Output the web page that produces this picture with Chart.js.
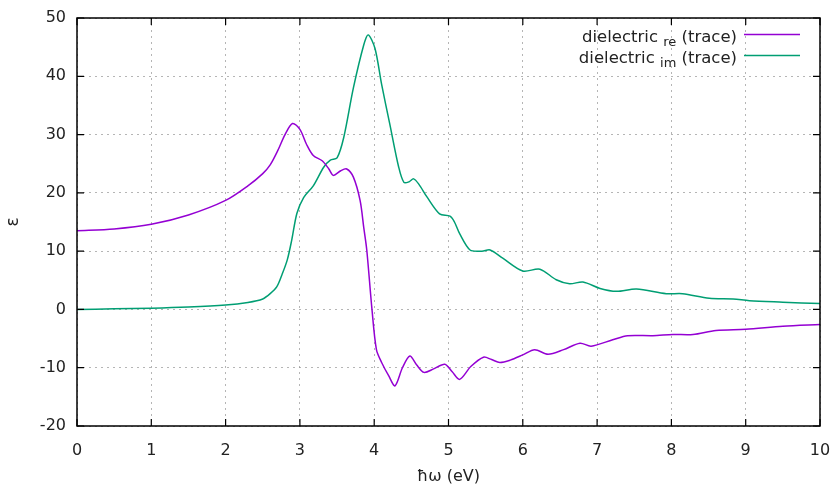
<!DOCTYPE html>
<html>
<head>
<meta charset="utf-8">
<script src="https://cdn.jsdelivr.net/npm/chart.js@4.4.1/dist/chart.umd.min.js"></script>
<style>
  html, body { margin: 0; padding: 0; background: #fff; }
  #wrap { width: 835px; height: 486px; position: relative; }
</style>
</head>
<body>
<div id="wrap"><canvas id="c" width="835" height="486"></canvas></div>
<script>
// ---- data ----
const reEnergy = [0, 0.5, 1, 1.5, 2, 2.3, 2.5, 2.6, 2.7, 2.8, 2.9, 3.0, 3.09, 3.18, 3.3, 3.39, 3.45, 3.55, 3.63, 3.72, 3.81, 3.86, 3.9, 3.97, 4.03, 4.1, 4.2, 4.28, 4.38, 4.48, 4.57, 4.67, 4.8, 4.95, 5.05, 5.15, 5.3, 5.47, 5.58, 5.69, 5.83, 6.0, 6.16, 6.34, 6.55, 6.77, 6.92, 7.21, 7.41, 7.75, 8.02, 8.29, 8.6, 9.0, 9.5, 10];
const reValues = [13.5, 13.8, 14.6, 16.2, 18.7, 21.2, 23.3, 24.8, 27.2, 30, 31.9, 30.9, 28.3, 26.4, 25.5, 24.1, 23, 23.8, 24.1, 22.7, 18.7, 14, 10.2, 0, -6.9, -9.1, -11.5, -13.1, -10, -8.0, -9.5, -10.8, -10.2, -9.4, -10.7, -12, -9.8, -8.2, -8.6, -9.1, -8.7, -7.8, -6.9, -7.7, -6.9, -5.8, -6.3, -5.2, -4.5, -4.5, -4.3, -4.3, -3.6, -3.4, -2.9, -2.6];

const imEnergy = [0, 0.5, 1, 1.5, 2, 2.3, 2.5, 2.6, 2.69, 2.76, 2.83, 2.89, 2.96, 3.05, 3.18, 3.32, 3.41, 3.5, 3.59, 3.72, 3.86, 3.92, 4.01, 4.1, 4.21, 4.33, 4.4, 4.47, 4.53, 4.6, 4.71, 4.88, 5.02, 5.08, 5.15, 5.29, 5.45, 5.56, 5.73, 6.0, 6.23, 6.45, 6.63, 6.81, 7.04, 7.26, 7.53, 7.93, 8.15, 8.51, 8.83, 9.05, 9.5, 10];
const imValues = [0, 0.1, 0.2, 0.4, 0.75, 1.2, 1.8, 2.7, 3.9, 6, 8.5, 11.9, 16.5, 19.2, 21.2, 24.4, 25.6, 26, 29.5, 38, 45.4, 47.1, 44.8, 38.6, 31.8, 24.4, 21.8, 21.9, 22.4, 21.5, 19.3, 16.4, 16, 15, 13, 10.2, 10, 10.2, 8.8, 6.6, 6.9, 5.1, 4.4, 4.7, 3.6, 3.1, 3.5, 2.7, 2.7, 1.9, 1.8, 1.5, 1.25, 1.0];

const seriesNames = ['dielectric', 'dielectric'];
const seriesSubs = ['re', 'im'];
const seriesSuffix = [' (trace)', ' (trace)'];
const xTitle = 'ħω (eV)';
const yTitle = 'ε';

const colors = ['#9400d3', '#009e73'];
const FONT = '"DejaVu Sans", sans-serif';

const toPts = (xs, ys) => xs.map((x, i) => ({ x: x, y: ys[i] }));

// frame + inward ticks (gnuplot style)
const framePlugin = {
  id: 'frame',
  afterDraw(chart) {
    const { ctx, chartArea: a, scales } = chart;
    ctx.save();
    ctx.strokeStyle = '#000';
    ctx.lineWidth = 1.5;
    ctx.beginPath();
    ctx.rect(a.left, a.top, a.right - a.left, a.bottom - a.top);
    ctx.stroke();
    ctx.lineWidth = 1.2;
    const L = 7;
    ctx.beginPath();
    scales.x.ticks.forEach(t => {
      const px = scales.x.getPixelForValue(t.value);
      ctx.moveTo(px, a.bottom); ctx.lineTo(px, a.bottom - L);
      ctx.moveTo(px, a.top); ctx.lineTo(px, a.top + L);
    });
    scales.y.ticks.forEach(t => {
      const py = scales.y.getPixelForValue(t.value);
      ctx.moveTo(a.left, py); ctx.lineTo(a.left + L, py);
      ctx.moveTo(a.right, py); ctx.lineTo(a.right - L, py);
    });
    ctx.stroke();
    ctx.restore();
  }
};

// legend with subscripts, top-right inside plot
const legendPlugin = {
  id: 'subLegend',
  afterDraw(chart) {
    const { ctx, chartArea: a } = chart;
    ctx.save();
    const textRight = a.right - 83;
    const baselines = [a.top + 24, a.top + 45];
    const lineYs = [a.top + 16.5, a.top + 37.5];
    chart.data.datasets.forEach((ds, i) => {
      const big = '16.5px ' + FONT, small = '13px ' + FONT;
      ctx.font = big;
      const w1 = ctx.measureText(seriesNames[i] + ' ').width;
      const w3 = ctx.measureText(seriesSuffix[i]).width;
      ctx.font = small;
      const w2 = ctx.measureText(seriesSubs[i]).width;
      let x = textRight - (w1 + w2 + w3);
      const yb = baselines[i];
      ctx.fillStyle = '#222';
      ctx.textBaseline = 'alphabetic';
      ctx.textAlign = 'left';
      ctx.font = big; ctx.fillText(seriesNames[i] + ' ', x, yb); x += w1;
      ctx.font = small; ctx.fillText(seriesSubs[i], x, yb + 4); x += w2;
      ctx.font = big; ctx.fillText(seriesSuffix[i], x, yb);
      ctx.strokeStyle = ds.borderColor;
      ctx.lineWidth = 1.5;
      ctx.beginPath();
      ctx.moveTo(textRight + 7, lineYs[i]);
      ctx.lineTo(textRight + 63, lineYs[i]);
      ctx.stroke();
    });
    ctx.restore();
  }
};

new Chart(document.getElementById('c'), {
  type: 'scatter',
  data: {
    datasets: [
      { label: seriesNames[0] + ' ' + seriesSubs[0] + seriesSuffix[0], data: toPts(reEnergy, reValues),
        showLine: true, borderColor: colors[0], backgroundColor: colors[0], borderWidth: 1.5,
        pointRadius: 0, tension: 0.3 },
      { label: seriesNames[1] + ' ' + seriesSubs[1] + seriesSuffix[1], data: toPts(imEnergy, imValues),
        showLine: true, borderColor: colors[1], backgroundColor: colors[1], borderWidth: 1.5,
        pointRadius: 0, tension: 0.3 }
    ]
  },
  options: {
    responsive: false,
    animation: false,
    layout: { padding: { top: 18, right: 15, left: 0, bottom: 0 } },
    plugins: { legend: { display: false }, tooltip: { enabled: false } },
    scales: {
      x: {
        type: 'linear', min: 0, max: 10,
        ticks: { stepSize: 1, color: '#222', font: { family: FONT, size: 16 }, padding: 15, maxRotation: 0 },
        grid: { color: 'rgba(150,150,150,0.7)', lineWidth: 1, drawTicks: false },
        border: { display: false, dash: [2, 4] },
        title: { display: true, text: xTitle, color: '#222', font: { family: FONT, size: 16 }, padding: { top: 0, bottom: 0 } },
        afterFit(s) { s.height = 60; s.paddingRight = 0; s.paddingLeft = 0; }
      },
      y: {
        type: 'linear', min: -20, max: 50,
        ticks: { stepSize: 10, color: '#222', font: { family: FONT, size: 16 }, padding: 11 },
        grid: { color: 'rgba(150,150,150,0.7)', lineWidth: 1, drawTicks: false },
        border: { display: false, dash: [2, 4] },
        title: { display: true, text: yTitle, color: '#222', font: { family: FONT, size: 17 }, padding: { top: 3, bottom: 0 } },
        afterFit(s) { s.width = 77; s.paddingTop = 0; s.paddingBottom = 0; }
      }
    }
  },
  plugins: [framePlugin, legendPlugin]
});
</script>
</body>
</html>
